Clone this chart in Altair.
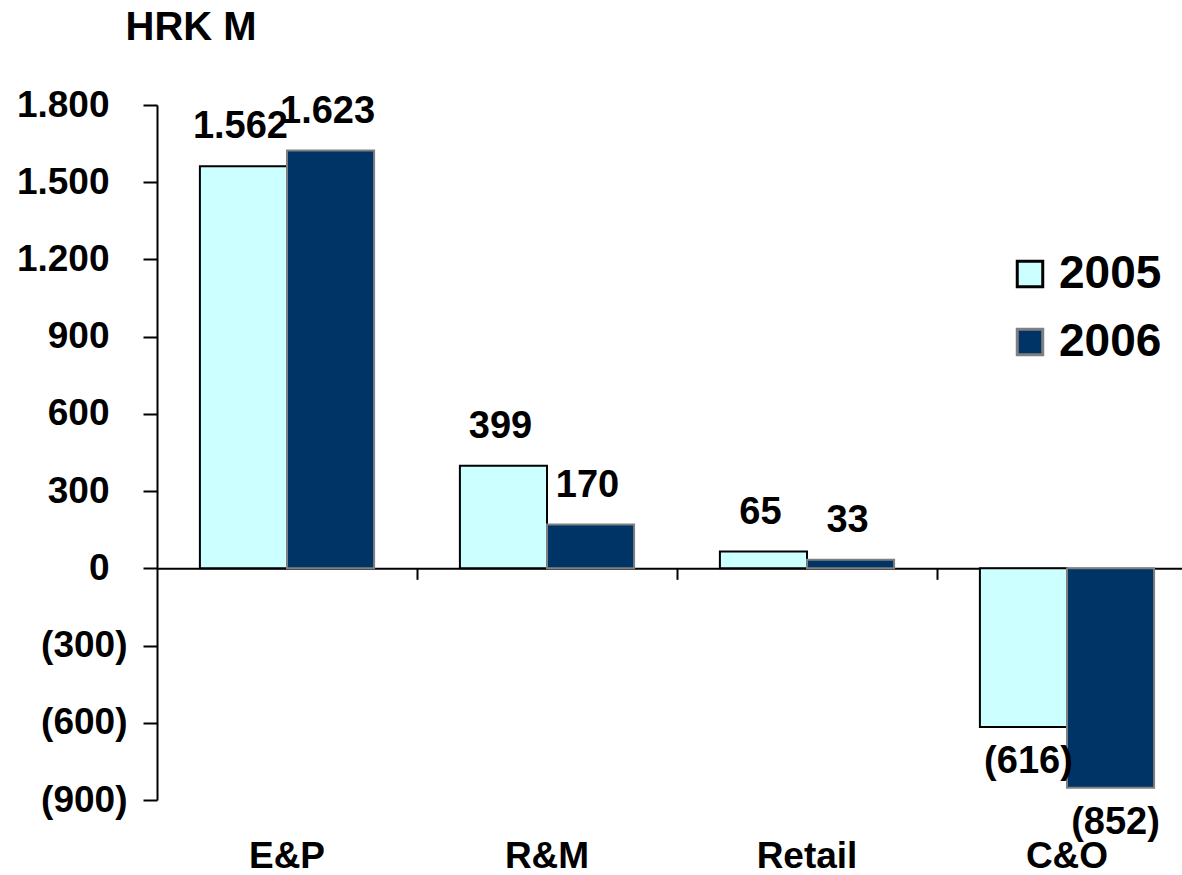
import altair as alt
import pandas as pd

categories = ["E&P", "R&M", "Retail", "C&O"]
years = ["2005", "2006"]
values_2005 = [1562, 399, 65, -616]
values_2006 = [1623, 170, 33, -852]
y_ticks = [-900, -600, -300, 0, 300, 600, 900, 1200, 1500, 1800]

rows = []
for c, a, b in zip(categories, values_2005, values_2006):
    rows.append({"Category": c, "Year": "2005", "Value": a})
    rows.append({"Category": c, "Year": "2006", "Value": b})
df = pd.DataFrame(rows)

FONT = "Liberation Sans"
W, H = 1025, 695

x_scale = alt.Scale(domain=categories, range=[0, 1040], paddingInner=0.33, paddingOuter=0.165)
y_scale = alt.Scale(domain=[-900, 1800], nice=False, zero=False)
xo_scale = alt.Scale(domain=years, paddingInner=0, paddingOuter=0)

fmt_axis = "replace(format(abs(datum.value), ','), ',', '.')"
ylabel = "datum.value < 0 ? '(' + " + fmt_axis + " + ')' : " + fmt_axis
fmt_val = "replace(format(abs(datum.Value), ','), ',', '.')"
vlabel = "datum.Value < 0 ? '(' + " + fmt_val + " + ')' : " + fmt_val

x_axis = alt.Axis(orient="bottom", offset=-231.7, labels=False, title=None,
                  domain=True, domainColor="black", domainWidth=2,
                  ticks=True, tickOffset=130, tickSize=11, tickColor="black",
                  tickWidth=2, grid=False)
y_axis = alt.Axis(values=y_ticks, labelExpr=ylabel, grid=False,
                  labelFont=FONT, labelFontSize=37, labelFontWeight="bold",
                  labelColor="black",
                  labelPadding={"condition": {"test": "datum.value < 0", "value": 16}, "value": 34},
                  tickSize=14, tickWidth=2, tickColor="black",
                  domainColor="black", domainWidth=2,
                  title="HRK M", titleAngle=0, titleAlign="left",
                  titleBaseline="alphabetic", titleX=-32, titleY=-66,
                  titleFont=FONT, titleFontSize=40, titleFontWeight="bold",
                  titleColor="black")
legend = alt.Legend(orient="none", legendX=850, legendY=146, title=None,
                    symbolType="square", symbolSize=650, symbolStrokeWidth=3,
                    labelFont=FONT, labelFontSize=46, labelFontWeight="bold",
                    labelColor="black", labelOffset=6, rowPadding=22, padding=0)

X = alt.X("Category:N", scale=x_scale, sort=categories, axis=x_axis)
XO = alt.XOffset("Year:N", scale=xo_scale, sort=years)
Y = alt.Y("Value:Q", scale=y_scale, axis=y_axis)

base = alt.Chart(df)

bars = base.mark_bar(strokeWidth=2).encode(
    x=X, xOffset=XO, y=Y,
    color=alt.Color("Year:N", scale=alt.Scale(domain=years, range=["#CCFFFF", "#003366"]), legend=legend),
    stroke=alt.Stroke("Year:N", scale=alt.Scale(domain=years, range=["#000000", "#808080"]), legend=legend),
)

text_style = dict(font=FONT, fontSize=38, fontWeight="bold", color="black", baseline="alphabetic")

pos_labels = base.transform_filter("datum.Value >= 0").transform_calculate(
    Label=vlabel
).mark_text(dy=-28, dx=-3, **text_style).encode(x=X, xOffset=XO, y=Y, text="Label:N")

neg_labels = base.transform_filter("datum.Value < 0").transform_calculate(
    Label=vlabel
).mark_text(dy=46, dx=5, **text_style).encode(x=X, xOffset=XO, y=Y, text="Label:N")

cat_labels = base.transform_filter("datum.Year == '2005'").mark_text(
    dy=68, **dict(text_style, fontSize=37)
).encode(x=X, y=alt.value(H), text="Category:N")

chart = alt.layer(bars, pos_labels, neg_labels, cat_labels).properties(
    width=W, height=H,
    padding={"left": 157, "top": 105, "right": 0, "bottom": 75},
    autosize=alt.AutoSizeParams(type="none"),
    background="white",
).configure_view(stroke=None)

chart.save("out.html", embed_options={"renderer": "svg", "actions": False})
